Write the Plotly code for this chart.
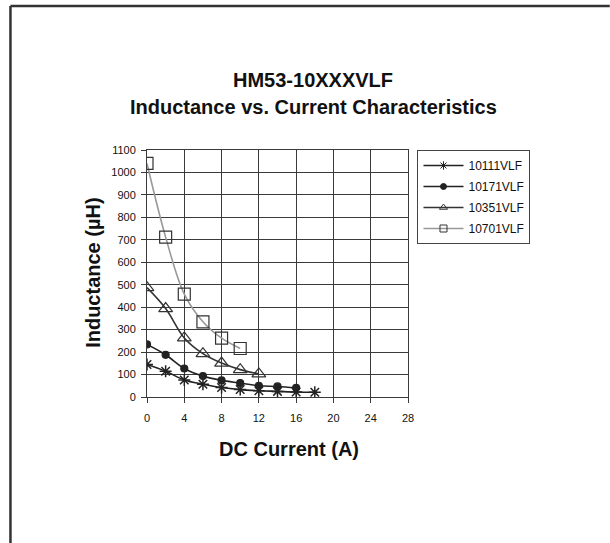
import plotly.graph_objects as go

# Data
current_a = [0, 2, 4, 6, 8, 10, 12, 14, 16, 18]
s10111 = [145, 115, 76, 57, 42, 33, 28, 25, 22, 21]
s10171 = [234, 188, 127, 93, 74, 62, 50, 47, 41]
s10351 = [487, 394, 263, 193, 151, 122, 103]
s10701 = [1040, 712, 458, 335, 262, 216]

series_names = ["10111VLF", "10171VLF", "10351VLF", "10701VLF"]
x_ticks = [0, 4, 8, 12, 16, 20, 24, 28]
y_ticks = list(range(0, 1101, 100))

FONT = "Liberation Sans, Arial, sans-serif"

W, H = 610, 543
L, R, T, B = 146.7, 202, 150, 146
pw, ph = W - L - R, H - T - B

def px(x):
    return (x - L) / pw

def py(y):
    return (H - B - y) / ph

fig = go.Figure()

styles = [
    dict(values=s10111, color="#222222", symbol="asterisk-open", size=10, fill="#222222", lw=1.5, lsize=7),
    dict(values=s10171, color="#222222", symbol="circle", size=7, fill="#222222", lw=1.2, lsize=6),
    dict(values=s10351, color="#333333", symbol="triangle-up-open", size=12, fill="#333333", lw=1.2, lsize=7),
    dict(values=s10701, color="#999999", symbol="square-open", size=12, fill="#333333", lw=1.2, lsize=7),
]

for name, st in zip(series_names, styles):
    vals = st["values"]
    line = dict(color=st["color"], width=1.6, shape="spline", smoothing=1)
    fig.add_trace(go.Scatter(
        x=current_a[:len(vals)], y=vals, name=name, mode="lines+markers",
        showlegend=False, legendgroup=name,
        line=line,
        marker=dict(symbol=st["symbol"], size=st["size"], color=st["fill"],
                    line=dict(color="#222222", width=st["lw"])),
    ))
    # legend entry with the small Excel-style legend marker
    fig.add_trace(go.Scatter(
        x=[None], y=[None], name=name, mode="lines+markers",
        showlegend=True, legendgroup=name,
        line=dict(color=st["color"], width=1.6),
        marker=dict(symbol=st["symbol"], size=st["lsize"], color=st["fill"],
                    line=dict(color="#222222", width=1)),
    ))

axis_common = dict(
    showgrid=True, gridcolor="#3a3a3a", gridwidth=1,
    showline=True, linecolor="#3a3a3a", linewidth=1, mirror=True,
    ticks="outside", ticklen=5, tickcolor="#3a3a3a",
    tickfont=dict(family=FONT, size=11, color="#111111"),
    zeroline=False,
)

fig.update_xaxes(range=[0, 28], tickvals=x_ticks, ticklabelstandoff=6, **axis_common)
fig.update_yaxes(range=[0, 1100], tickvals=y_ticks, ticklabelstandoff=3, **axis_common)

annotations = [
    dict(text="<b>HM53-10XXXVLF</b>", x=px(313), y=py(80.4), font=dict(size=20)),
    dict(text="<b>Inductance vs. Current Characteristics</b>", x=px(313), y=py(106.7), font=dict(size=20)),
    dict(text="<b>DC Current (A)</b>", x=px(289), y=py(449), font=dict(size=20)),
    dict(text="<b>Inductance (µH)</b>", x=px(92.5), y=py(273), font=dict(size=20), textangle=-90),
]
for a in annotations:
    a.update(xref="paper", yref="paper", showarrow=False, xanchor="center", yanchor="middle")
    a["font"].update(family=FONT, color="#111111")

shapes = [
    dict(type="line", xref="paper", yref="paper", x0=px(10), y0=py(6), x1=px(610), y1=py(6),
         line=dict(color="#333333", width=2.5)),
    dict(type="line", xref="paper", yref="paper", x0=px(10), y0=py(6), x1=px(10), y1=py(543),
         line=dict(color="#333333", width=2.5)),
]

fig.update_layout(
    width=W, height=H,
    margin=dict(l=L, r=R, t=T, b=B),
    paper_bgcolor="white", plot_bgcolor="white",
    font=dict(family=FONT, color="#111111"),
    showlegend=True,
    legend=dict(x=px(417.5), y=1, xanchor="left", yanchor="top",
                bordercolor="#444444", borderwidth=1, bgcolor="white",
                font=dict(family=FONT, size=12, color="#111111"),
                tracegroupgap=2, itemwidth=40),
    annotations=annotations,
    shapes=shapes,
)

fig.write_html(
    "out.html",
    config={"displayModeBar": False},
    post_script=(
        "document.documentElement.style.margin='0';"
        "document.documentElement.style.overflow='hidden';"
        "document.body.style.margin='0';"
        "document.body.style.overflow='hidden';"
    ),
)
